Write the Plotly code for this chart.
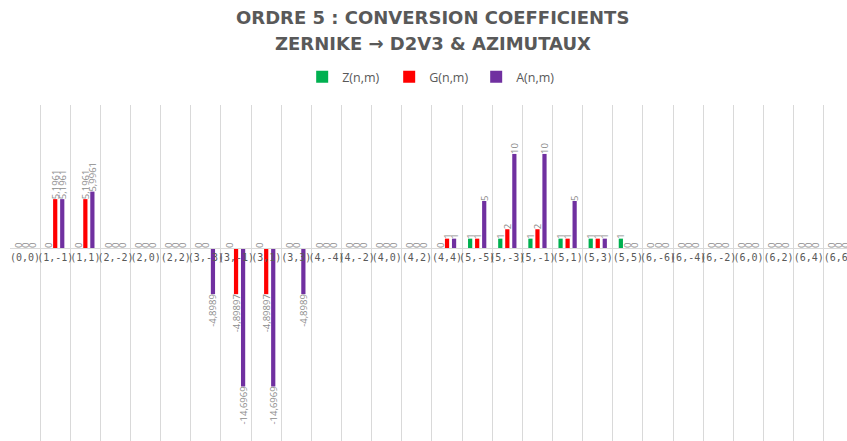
import plotly.graph_objects as go

categories = [
    "(0,0)", "(1,-1)", "(1,1)", "(2,-2)", "(2,0)", "(2,2)",
    "(3,-3)", "(3,-1)", "(3,1)", "(3,3)",
    "(4,-4)", "(4,-2)", "(4,0)", "(4,2)", "(4,4)",
    "(5,-5)", "(5,-3)", "(5,-1)", "(5,1)", "(5,3)", "(5,5)",
    "(6,-6)", "(6,-4)", "(6,-2)", "(6,0)", "(6,2)", "(6,4)", "(6,6)",
]
z_vals = [0, 0, 0, 0, 0, 0, 0, 0, 0, 0, 0, 0, 0, 0, 0,
          1, 1, 1, 1, 1, 1, 0, 0, 0, 0, 0, 0, 0]
g_vals = [0, 5.1961, 5.1961, 0, 0, 0, 0, -4.89897, -4.89897, 0, 0, 0, 0, 0, 1,
          1, 2, 2, 1, 1, 0, 0, 0, 0, 0, 0, 0, 0]
a_vals = [0, 5.1961, 5.9961, 0, 0, 0, -4.8989, -14.6969, -14.6969, -4.8989, 0, 0, 0, 0, 1,
          5, 10, 10, 5, 1, 0, 0, 0, 0, 0, 0, 0, 0]

series = [
    ("Z(n,m)", z_vals, "#00B050"),
    ("G(n,m)", g_vals, "#FF0000"),
    ("A(n,m)", a_vals, "#7030A0"),
]


def fr(v):
    # french decimal comma, like the excel labels
    return f"{v:g}".replace(".", ",")


fig = go.Figure()
for name, vals, color in series:
    fig.add_trace(
        go.Bar(
            x=categories,
            y=vals,
            name=name,
            marker=dict(color=color, line=dict(width=0)),
            text=[fr(v) for v in vals],
            textposition="outside",
            textangle=-90,
            constraintext="none",
            cliponaxis=False,
            outsidetextfont=dict(family="Open Sans", size=9.5, color="#8C8C8C"),
        )
    )

y_min, y_max = -20.5, 15.2
title_font = dict(family="DejaVu Sans", size=18, color="#595959")

fig.update_layout(
    width=847,
    height=441,
    barmode="group",
    bargap=0.3,
    bargroupgap=0.4,
    margin=dict(l=10, r=0, t=105, b=0, autoexpand=False),
    paper_bgcolor="white",
    plot_bgcolor="white",
    font=dict(family="Open Sans", color="#595959"),
    showlegend=True,
    legend=dict(
        orientation="h",
        x=0.505,
        xanchor="center",
        y=1.083,
        yanchor="middle",
        itemwidth=30,
        entrywidth=42,
        font=dict(size=12.5, color="#595959"),
    ),
    xaxis=dict(
        type="category",
        range=[-0.5, 27.27],
        tickson="boundaries",
        showgrid=True,
        gridcolor="#D9D9D9",
        gridwidth=1,
        showline=True,
        linecolor="#D9D9D9",
        ticks="",
        anchor="free",
        position=(0 - y_min) / (y_max - y_min),
        tickfont=dict(family="DejaVu Sans Mono", size=10, color="#595959"),
        tickangle=0,
    ),
    yaxis=dict(
        range=[y_min, y_max],
        showgrid=False,
        zeroline=False,
        showticklabels=False,
        ticks="",
    ),
    annotations=[
        dict(
            text="<b>ORDRE 5 : CONVERSION COEFFICIENTS</b>",
            x=0.505, xref="paper", y=1 + (105 - 17) / 336, yref="paper",
            xanchor="center", yanchor="middle", showarrow=False,
            font=title_font,
        ),
        dict(
            text="<b>ZERNIKE \u2192 D2V3 &amp; AZIMUTAUX</b>",
            x=0.505, xref="paper", y=1 + (105 - 44) / 336, yref="paper",
            xanchor="center", yanchor="middle", showarrow=False,
            font=title_font,
        ),
    ],
)

# page body has an 8px default margin, drop it so the figure sits at 0,0
fig.write_html(
    "out.html",
    config={"displayModeBar": False},
    post_script="document.body.style.margin='0';",
)
